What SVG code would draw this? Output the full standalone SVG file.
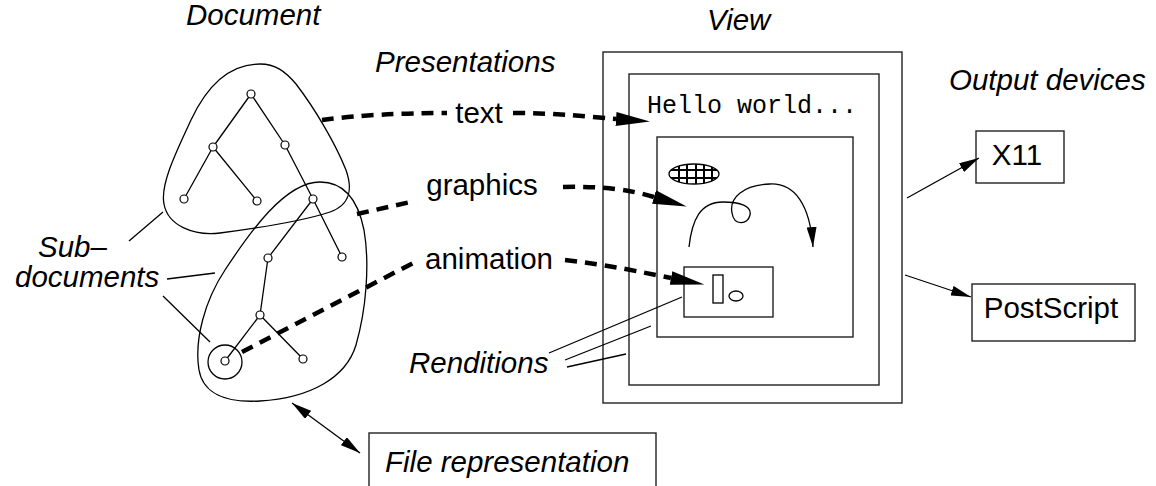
<svg xmlns="http://www.w3.org/2000/svg" width="1156" height="486" viewBox="0 0 1156 486">
<style>
.ln{fill:none;stroke:#000;stroke-width:1.3}
.box{fill:none;stroke:#222;stroke-width:1.4}
.dash{fill:none;stroke:#000;stroke-width:4.5;stroke-dasharray:12 8}
.nd{fill:#fff;stroke:#000;stroke-width:1.2}
.lab{font-family:"Liberation Sans",Arial,sans-serif;font-size:29.5px;fill:#000}
.it{font-style:italic}
.mono{font-family:"Liberation Mono","Courier New",monospace;font-size:25px;fill:#000}
.hatch{stroke:#000;stroke-width:2}
</style>
<defs>
<marker id="bigArrow" markerUnits="userSpaceOnUse" markerWidth="34" markerHeight="14" viewBox="0 0 32 13" refX="0" refY="6.5" orient="auto"><path d="M0,0 L32,6.5 L0,13 Z" fill="#000"/></marker>
<marker id="thinArrow" markerUnits="userSpaceOnUse" markerWidth="20" markerHeight="10" viewBox="0 0 20 10" refX="20" refY="5" orient="auto-start-reverse"><path d="M0,0 L20,5 L0,10 Z" fill="#000"/></marker>
<clipPath id="ellClip"><ellipse cx="694" cy="174" rx="25" ry="10"/></clipPath>
</defs>

<g id="labels">
<text class="lab it" x="186" y="25">Document</text>
<text class="lab it" x="375" y="72">Presentations</text>
<text class="lab it" x="707" y="30">View</text>
<text class="lab it" x="949" y="90">Output devices</text>
<text class="lab it" x="38" y="257">Sub–</text>
<text class="lab it" x="15" y="287">documents</text>
<text class="lab it" x="409" y="373">Renditions</text>
</g>

<g id="document">
<path class="ln" d="M260,64 C228,64 206,88 191,120 C176,152 160,185 164,204 C168,226 194,236 220,233 C258,228 300,222 330,212 C350,205 353,190 346,170 C336,145 316,110 296,84 C285,71 275,64 260,64 Z"/>
</g>
<g id="subdocument">
<path class="ln" d="M320,182 C345,182 358,200 364,230 C370,265 366,310 356,345 C346,378 310,398 260,401 C225,403 203,393 199,370 C194,340 205,300 225,270 C250,232 285,182 320,182 Z"/>
<circle class="ln" cx="225" cy="362" r="17"/>
</g>
<g id="tree">
<path class="ln" d="M251,94 L213,147 M251,94 L285,145 M213,147 L184,199 M213,147 L257,201 M285,145 L313,199 M313,199 L268,258 M313,199 L342,257 M268,258 L260,315 M260,315 L225,361 M260,315 L303,359"/>
<circle class="nd" cx="251" cy="94" r="4"/>
<circle class="nd" cx="213" cy="147" r="4"/>
<circle class="nd" cx="285" cy="145" r="4"/>
<circle class="nd" cx="184" cy="199" r="4"/>
<circle class="nd" cx="257" cy="201" r="4"/>
<circle class="nd" cx="313" cy="199" r="4"/>
<circle class="nd" cx="268" cy="258" r="4"/>
<circle class="nd" cx="342" cy="257" r="4"/>
<circle class="nd" cx="260" cy="315" r="4"/>
<circle class="nd" cx="303" cy="359" r="4"/>
<circle class="nd" cx="225" cy="361" r="4"/>
</g>

<g id="view">
<rect class="box" x="603" y="52" width="299" height="351"/>
<rect class="box" x="629" y="74" width="250" height="311"/>
<text class="mono" x="647" y="113">Hello world...</text>
<rect class="box" x="657" y="137" width="196" height="200"/>
<g id="hatched-ellipse">
<g clip-path="url(#ellClip)">
<path class="hatch" d="M679,160 V190 M687,160 V190 M696,160 V190 M704,160 V190 M712,160 V190 M665,170 H725 M665,178 H725"/>
</g>
<ellipse class="ln" cx="694" cy="174" rx="25" ry="10"/>
</g>
<path class="ln" d="M689,247 C692,220 700,202 723,202 C740,202 752,206 750,215 C748,225 734,226 732,213 C729,198 743,185 770,184 C795,183 810,205 813,247" marker-end="url(#thinArrow)"/>
<rect class="box" x="684" y="267" width="89" height="50"/>
<rect class="ln" x="713" y="275" width="10" height="28"/>
<ellipse class="ln" cx="736" cy="296" rx="7" ry="5"/>
</g>

<g id="x11">
<rect class="box" x="976" y="131" width="88" height="52"/>
<text class="lab" x="1017" y="165" text-anchor="middle">X11</text>
</g>
<g id="postscript">
<rect class="box" x="972" y="284" width="163" height="57"/>
<text class="lab" x="1051" y="318" text-anchor="middle">PostScript</text>
</g>
<g id="file-representation">
<rect class="box" x="369" y="433" width="287" height="70"/>
<text class="lab it" x="385" y="472">File representation</text>
</g>

<g id="presentation-labels">
<text class="lab" x="479" y="123" text-anchor="middle">text</text>
<text class="lab" x="482" y="195" text-anchor="middle">graphics</text>
<text class="lab" x="489" y="269" text-anchor="middle">animation</text>
</g>

<g id="connectors">
<path class="dash" d="M322,120 Q375,113 447,113"/>
<path class="dash" d="M513,113 C560,113 590,117 616,119" marker-end="url(#bigArrow)"/>
<path class="dash" d="M357,214 L415,201"/>
<path class="dash" d="M563,187 C605,186 630,190 654,197" marker-end="url(#bigArrow)"/>
<path class="dash" d="M242,352 L415,262"/>
<path class="dash" d="M565,260 C610,265 640,272 671,278" marker-end="url(#bigArrow)"/>
<path class="ln" d="M907,198 L979,158" marker-end="url(#thinArrow)"/>
<path class="ln" d="M905,275 L971,297" marker-end="url(#thinArrow)"/>
<path class="ln" d="M292,403 L360,453" marker-start="url(#thinArrow)" marker-end="url(#thinArrow)"/>
<path class="ln" d="M129,241 L163,212 M167,279 L215,273 M163,296 L210,342"/>
<path class="ln" d="M549,353 L682,297 M565,360 L651,326 M567,367 L626,354"/>
</g>
</svg>
